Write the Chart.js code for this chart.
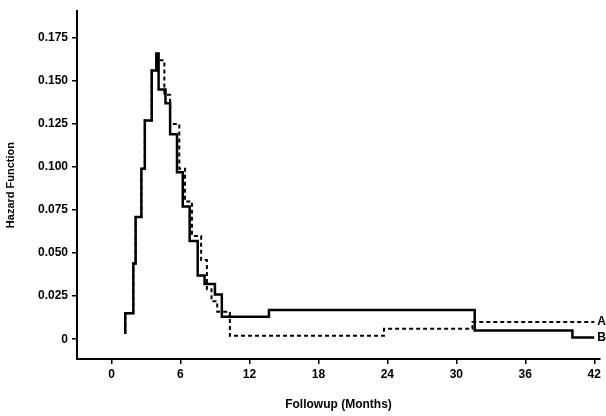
<!DOCTYPE html>
<html>
<head>
<meta charset="utf-8">
<script src="https://cdn.jsdelivr.net/npm/chart.js@4"></script>
<style>
  html, body { margin: 0; padding: 0; background: #fff; }
  #wrap { width: 606px; height: 416px; position: relative; }
</style>
</head>
<body>
<div id="wrap"><canvas id="c"></canvas></div>
<script>
// ---- data ----
const seriesNames = ['A', 'B'];
const xTicks = [0, 6, 12, 18, 24, 30, 36, 42];
const yTicks = [0, 0.025, 0.05, 0.075, 0.1, 0.125, 0.15, 0.175];
const yTickLabels = ['0', '0.025', '0.050', '0.075', '0.100', '0.125', '0.150', '0.175'];
const xTitle = 'Followup (Months)';
const yTitle = 'Hazard Function';

// series A (dashed): month where the step starts, value from there on
const monthsA = [1.2, 1.2, 1.9, 2.1, 2.6, 2.9, 3.5, 3.9, 4.6, 5.1, 5.9, 6.4, 7.0, 7.8, 8.3, 8.7, 9.2, 10.3, 23.7, 31.4, 42.0];
const hazardA = [0.003, 0.015, 0.044, 0.071, 0.099, 0.127, 0.156, 0.162, 0.142, 0.125, 0.099, 0.080, 0.060, 0.046, 0.029, 0.022, 0.016, 0.002, 0.006, 0.010, 0.010];

// series B (solid)
const monthsB = [1.2, 1.2, 1.9, 2.1, 2.6, 2.9, 3.5, 3.9, 4.1, 4.7, 5.1, 5.7, 6.2, 6.8, 7.5, 8.1, 9.0, 9.6, 13.7, 31.6, 40.1, 42.0];
const hazardB = [0.003, 0.015, 0.044, 0.071, 0.099, 0.127, 0.156, 0.166, 0.145, 0.137, 0.119, 0.097, 0.077, 0.057, 0.037, 0.032, 0.026, 0.013, 0.017, 0.005, 0.001, 0.001];

const toPts = (xs, ys) => xs.map((x, i) => ({ x: x, y: ys[i] }));

const FONT = 'Liberation Sans, Arial, sans-serif';

const endLabels = {
  id: 'endLabels',
  afterDatasetsDraw(chart) {
    const ctx = chart.ctx;
    ctx.save();
    ctx.font = 'bold 12px ' + FONT;
    ctx.fillStyle = '#000';
    ctx.textBaseline = 'middle';
    chart.data.datasets.forEach((ds, i) => {
      const meta = chart.getDatasetMeta(i);
      const last = meta.data[meta.data.length - 1];
      ctx.fillText(ds.label, last.x + 3, last.y);
    });
    ctx.restore();
  }
};

new Chart(document.getElementById('c'), {
  type: 'line',
  data: {
    datasets: [
      {
        label: seriesNames[0],
        data: toPts(monthsA, hazardA),
        stepped: 'before',
        borderColor: '#000',
        borderWidth: 2,
        borderDash: [4, 3],
        pointRadius: 0,
        fill: false
      },
      {
        label: seriesNames[1],
        data: toPts(monthsB, hazardB),
        stepped: 'before',
        borderColor: '#000',
        borderWidth: 2.5,
        pointRadius: 0,
        fill: false
      }
    ]
  },
  plugins: [endLabels],
  options: {
    responsive: true,
    maintainAspectRatio: false,
    animation: false,
    layout: { padding: { top: 8, right: 6, left: 0, bottom: 0 } },
    plugins: { legend: { display: false }, tooltip: { enabled: false } },
    scales: {
      x: {
        type: 'linear',
        min: -3,
        max: 42.5,
        afterBuildTicks(s) { s.ticks = xTicks.map(v => ({ value: v })); },
        afterFit(s) { s.height = 57; },
        border: { color: '#000', width: 2 },
        grid: { drawOnChartArea: false, color: '#000', tickLength: 5, lineWidth: 1.5 },
        ticks: { color: '#000', font: { family: FONT, size: 12, weight: 'bold' }, padding: 3, maxRotation: 0 },
        title: { display: true, text: xTitle, color: '#000', font: { family: FONT, size: 12, weight: 'bold' }, padding: { top: 12 } }
      },
      y: {
        type: 'linear',
        min: -0.0115,
        max: 0.1905,
        afterBuildTicks(s) { s.ticks = yTicks.map(v => ({ value: v })); },
        afterFit(s) { s.width = 77; },
        border: { color: '#000', width: 2 },
        grid: { drawOnChartArea: false, color: '#000', tickLength: 5, lineWidth: 1.5 },
        ticks: {
          color: '#000',
          font: { family: FONT, size: 12, weight: 'bold' },
          padding: 4,
          callback(v) { const i = yTicks.indexOf(v); return i >= 0 ? yTickLabels[i] : ''; }
        },
        title: { display: true, text: yTitle, color: '#000', font: { family: FONT, size: 11, weight: 'bold' }, padding: { bottom: 2 } }
      }
    }
  }
});
</script>
</body>
</html>
